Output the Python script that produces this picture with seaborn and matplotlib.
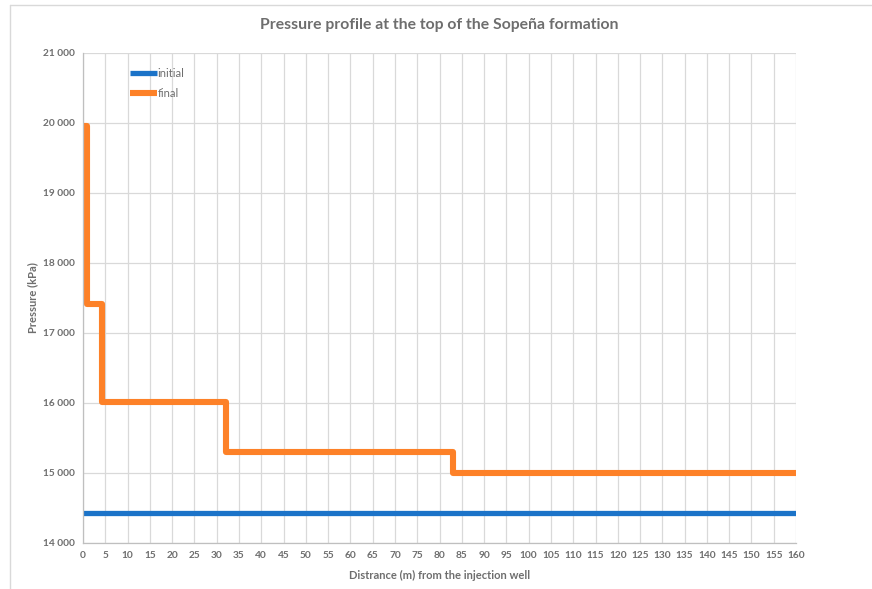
import matplotlib
matplotlib.use("Agg")
import matplotlib.pyplot as plt
from matplotlib.lines import Line2D
from matplotlib.ticker import FuncFormatter, MultipleLocator
import pandas as pd
import seaborn as sns

# final pressure profile (step changes at these distances)
final_distance = [0, 1.0, 4.2, 32, 83, 160]
final_pressure = [19960, 17420, 16020, 15300, 15000, 15000]

initial_distance = [0, 160]
initial_pressure = [14430, 14430]

BLUE = "#1B73C8"
ORANGE = "#FD8128"
GREY_TEXT = "#6E6E6E"
GRID = "#D9D9D9"

sns.set_theme(style="white")
plt.rcParams["font.family"] = ["Lato", "DejaVu Sans"]
plt.rcParams["font.weight"] = "bold"

df_final = pd.DataFrame({"distance": final_distance, "pressure": final_pressure})
df_init = pd.DataFrame({"distance": initial_distance, "pressure": initial_pressure})

fig = plt.figure(figsize=(8.72, 5.89), dpi=100)
ax = fig.add_axes([0.0952, 0.0781, 0.8177, 0.832])

sns.lineplot(data=df_init, x="distance", y="pressure", color=BLUE, lw=3.8,
             solid_capstyle="butt", ax=ax, label="initial")
sns.lineplot(data=df_final, x="distance", y="pressure", color=ORANGE, lw=4.4,
             drawstyle="steps-post", solid_capstyle="butt", solid_joinstyle="round",
             ax=ax, label="final")

ax.set_xlim(0, 160)
ax.set_ylim(14000, 21000)
ax.xaxis.set_major_locator(MultipleLocator(5))
ax.yaxis.set_major_locator(MultipleLocator(1000))
ax.yaxis.set_major_formatter(FuncFormatter(lambda v, p: f"{int(v):,}".replace(",", " ")))
ax.grid(True, color=GRID, lw=0.9)
ax.set_axisbelow(True)

for side in ["top", "right"]:
    ax.spines[side].set_visible(False)
for side in ["left", "bottom"]:
    ax.spines[side].set_color("#BFBFBF")
    ax.spines[side].set_linewidth(0.9)

ax.tick_params(axis="both", length=0, labelsize=7.3, labelcolor=GREY_TEXT, pad=6)

ax.set_xlabel("Distrance (m) from the injection well", fontsize=8, color=GREY_TEXT,
              fontweight="bold", labelpad=7)
ax.set_ylabel("Pressure (kPa)", fontsize=8, color=GREY_TEXT, fontweight="bold", labelpad=3)
ax.set_title("Pressure profile at the top of the Sopeña formation", fontsize=11.3,
             color=GREY_TEXT, fontweight="bold", pad=17)

leg = ax.legend(loc="upper left", bbox_to_anchor=(0.052, 0.99), frameon=False,
                handlelength=2.4, handletextpad=0.05, labelspacing=0.85,
                fontsize=8)
for t in leg.get_texts():
    t.set_color(GREY_TEXT)
    t.set_fontweight("normal")

# page frame
fig.add_artist(Line2D([0.0115, 1.0], [0.9915, 0.9915], color=GRID, lw=1.0))
fig.add_artist(Line2D([0.0115, 0.0115], [0.0, 0.9915], color=GRID, lw=1.0))

fig.savefig("out.png", dpi=100)
